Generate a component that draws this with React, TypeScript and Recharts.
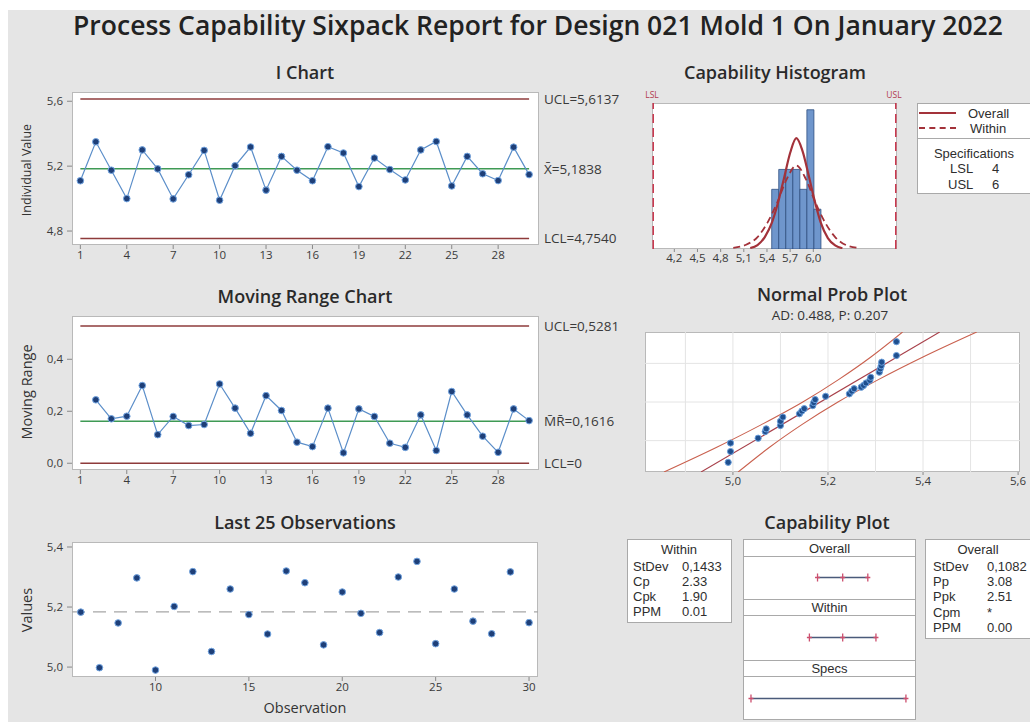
import React from 'react';
import { LineChart, ComposedChart, Line, XAxis, YAxis, ReferenceLine, ReferenceArea } from 'recharts';

const FONT = '"Open Sans", "Noto Sans", Arial, sans-serif';
const TABLE_FONT = '"Liberation Sans", Arial, sans-serif';

const observations = [1, 2, 3, 4, 5, 6, 7, 8, 9, 10, 11, 12, 13, 14, 15, 16, 17, 18, 19, 20, 21, 22, 23, 24, 25, 26, 27, 28, 29, 30];
const individualValues = [5.11, 5.35, 5.175, 5.0, 5.3, 5.183, 4.998, 5.147, 5.297, 4.99, 5.202, 5.318, 5.052, 5.26, 5.175, 5.11, 5.32, 5.281, 5.074, 5.25, 5.179, 5.115, 5.3, 5.352, 5.078, 5.26, 5.153, 5.111, 5.317, 5.148];
const iTicks = [1, 4, 7, 10, 13, 16, 19, 22, 25, 28];
const iUcl = 5.6137;
const iCenter = 5.1838;
const iLcl = 4.754;

const mrObservations = [2, 3, 4, 5, 6, 7, 8, 9, 10, 11, 12, 13, 14, 15, 16, 17, 18, 19, 20, 21, 22, 23, 24, 25, 26, 27, 28, 29, 30];
const movingRanges = [0.244, 0.171, 0.181, 0.299, 0.11, 0.18, 0.145, 0.149, 0.305, 0.212, 0.115, 0.26, 0.203, 0.081, 0.064, 0.212, 0.04, 0.209, 0.18, 0.077, 0.061, 0.186, 0.049, 0.276, 0.186, 0.104, 0.042, 0.209, 0.164];
const mrUcl = 0.5281;
const mrCenter = 0.1616;
const mrLcl = 0;

const last25Ticks = [10, 15, 20, 25, 30];

const lsl = 4;
const usl = 6;
const binEdges = [4.977, 5.035, 5.093, 5.151, 5.209, 5.267, 5.325, 5.383];
const binCounts = [3, 4, 4, 4, 3, 7, 2];
const histTicks = [4.2, 4.5, 4.8, 5.1, 5.4, 5.7, 6.0];
const overallCurveX = [4.8, 4.86, 4.92, 4.98, 5.03, 5.08, 5.13, 5.18, 5.23, 5.28, 5.33, 5.38, 5.44, 5.5, 5.56];
const overallCurveY = [0.05, 0.2, 0.6, 1.35, 2.35, 3.6, 4.85, 5.57, 4.95, 3.75, 2.45, 1.35, 0.55, 0.18, 0.04];
const withinCurveX = [4.66, 4.76, 4.86, 4.94, 5.02, 5.1, 5.18, 5.26, 5.34, 5.42, 5.5, 5.6, 5.7];
const withinCurveY = [0.06, 0.2, 0.6, 1.3, 2.3, 3.5, 4.2, 3.5, 2.3, 1.3, 0.6, 0.17, 0.05];

const probX = [4.99, 4.995, 4.995, 5.053, 5.068, 5.07, 5.1, 5.1, 5.105, 5.14, 5.145, 5.15, 5.168, 5.17, 5.173, 5.195, 5.245, 5.25, 5.255, 5.27, 5.275, 5.28, 5.288, 5.29, 5.308, 5.31, 5.312, 5.313, 5.344, 5.344];
const probZ = [-2.0, -1.64, -1.36, -1.2, -0.98, -0.89, -0.78, -0.64, -0.5, -0.39, -0.3, -0.22, -0.12, -0.02, 0.08, 0.19, 0.27, 0.36, 0.44, 0.49, 0.55, 0.63, 0.72, 0.82, 0.99, 1.1, 1.2, 1.32, 1.54, 2.0];
const fitX = [4.933, 5.435];
const fitZ = [-2.32, 2.32];
const bandZ = [-2.32, -1.5, -0.75, 0, 0.75, 1.5, 2.32];
const bandLeftX = [4.855, 4.966, 5.06, 5.147, 5.223, 5.291, 5.357];
const bandRightX = [5.011, 5.077, 5.145, 5.221, 5.307, 5.401, 5.513];
const probTicks = [5.0, 5.2, 5.4, 5.6];
const probGridX = [4.9, 5.0, 5.1, 5.2, 5.3, 5.4, 5.5];
const probGridZ = [-1.28, 0, 1.28];

const overallInterval = [4.859, 5.1838, 5.508];
const withinInterval = [4.754, 5.1838, 5.613];
const specInterval = [4, 6];

const withinLabels = ['StDev', 'Cp', 'Cpk', 'PPM'];
const withinValues = ['0,1433', '2.33', '1.90', '0.01'];
const overallLabels = ['StDev', 'Pp', 'Ppk', 'Cpm', 'PPM'];
const overallValues = ['0,1082', '3.08', '2.51', '*', '0.00'];

// ---- layout helpers ----
type Rect = { x0: number; y0: number; x1: number; y1: number };
const I_RECT: Rect = { x0: 72, y0: 92, x1: 539, y1: 245 };
const MR_RECT: Rect = { x0: 72, y0: 316, x1: 539, y1: 470 };
const L25_RECT: Rect = { x0: 72, y0: 542, x1: 538, y1: 677 };
const HIST_RECT: Rect = { x0: 652, y0: 103, x1: 897, y1: 249 };
const PROB_RECT: Rect = { x0: 645, y0: 332, x1: 1020, y1: 472 };

const TOP_PAD = 8;

function frame(r: Rect, leftW: number, rightW: number, bottomH: number) {
  return {
    left: r.x0 - leftW,
    top: r.y0 - TOP_PAD,
    width: r.x1 - r.x0 + leftW + rightW,
    height: r.y1 - r.y0 + TOP_PAD + bottomH,
  };
}

const comma = (v: number, d: number) => v.toFixed(d).replace('.', ',');
const tickStyle = { fontSize: 11.5, fill: '#3a3a3a', fontFamily: FONT };

function PlotBox({ r }: { r: Rect }) {
  return (
    <div
      style={{
        position: 'absolute',
        left: r.x0,
        top: r.y0,
        width: r.x1 - r.x0,
        height: r.y1 - r.y0,
        background: '#fff',
        border: '1px solid #b9b9b9',
        boxSizing: 'border-box',
      }}
    />
  );
}

function Txt({
  x,
  y,
  children,
  size = 12,
  weight = 400,
  align = 'center',
  color = '#333',
  rotate = 0,
  family,
}: {
  x: number;
  y: number;
  children: React.ReactNode;
  size?: number;
  weight?: number;
  align?: 'center' | 'left' | 'right';
  color?: string;
  rotate?: number;
  family?: string;
}) {
  const tx = align === 'center' ? '-50%' : align === 'right' ? '-100%' : '0';
  return (
    <div
      style={{
        position: 'absolute',
        left: x,
        top: y,
        transform: `translate(${tx}, -50%) rotate(${rotate}deg)`,
        fontSize: size,
        fontWeight: weight,
        fontFamily: family,
        color,
        whiteSpace: 'nowrap',
        lineHeight: 1,
      }}
    >
      {children}
    </div>
  );
}

// small text used in the tables and the legend
function Cell(props: { x: number; y: number; children: React.ReactNode; align?: 'center' | 'left' | 'right' }) {
  return <Txt {...props} size={13} family={TABLE_FONT} color="#2e2e2e" />;
}

const pointDot = { r: 3.3, fill: '#1e3f78', stroke: '#74a6e2', strokeWidth: 1 };

function ControlChart({
  rect,
  xs,
  ys,
  yDomain,
  yTicks,
  limits,
  limitText,
}: {
  rect: Rect;
  xs: number[];
  ys: number[];
  yDomain: [number, number];
  yTicks: number[];
  limits: number[];
  limitText: (v: number) => string;
}) {
  const f = frame(rect, 72, 100, 24);
  const data = xs.map((obs, i) => ({ obs, value: ys[i] }));
  const [lcl, center, ucl] = limits;
  return (
    <div style={{ position: 'absolute', left: f.left, top: f.top }}>
      <LineChart width={f.width} height={f.height} data={data} margin={{ top: TOP_PAD, right: 0, bottom: 0, left: 0 }}>
        <XAxis
          dataKey="obs"
          type="number"
          domain={[0.46, 30.64]}
          ticks={iTicks}
          interval={0}
          allowDataOverflow
          axisLine={false}
          tickSize={4}
          tickLine={{ stroke: '#888' }}
          height={24}
          tick={tickStyle}
        />
        <YAxis
          yAxisId="l"
          type="number"
          domain={yDomain}
          ticks={yTicks}
          interval={0}
          allowDataOverflow
          width={72}
          axisLine={false}
          tickSize={5}
          tickMargin={4}
          tickLine={{ stroke: '#888' }}
          tick={tickStyle}
          tickFormatter={(v: number) => comma(v, 1)}
        />
        <YAxis
          yAxisId="r"
          orientation="right"
          type="number"
          domain={yDomain}
          ticks={limits}
          interval={0}
          allowDataOverflow
          width={100}
          axisLine={false}
          tickLine={false}
          tickSize={0}
          tickMargin={5}
          tick={{ ...tickStyle, fontSize: 13.5 }}
          tickFormatter={limitText}
        />
        <ReferenceLine yAxisId="l" segment={[{ x: 1, y: center }, { x: 30, y: center }]} stroke="#3f9a55" strokeWidth={1.4} />
        <ReferenceLine yAxisId="l" segment={[{ x: 1, y: ucl }, { x: 30, y: ucl }]} stroke="#8e3b3b" strokeWidth={1.6} />
        <ReferenceLine yAxisId="l" segment={[{ x: 1, y: lcl }, { x: 30, y: lcl }]} stroke="#8e3b3b" strokeWidth={1.6} />
        <Line yAxisId="l" dataKey="value" stroke="#5b8ec9" strokeWidth={1.2} dot={pointDot} isAnimationActive={false} />
      </LineChart>
    </div>
  );
}

function Last25Chart() {
  const f = frame(L25_RECT, 72, 10, 24);
  const data = observations.slice(5).map((obs, i) => ({ obs, value: individualValues.slice(5)[i] }));
  return (
    <div style={{ position: 'absolute', left: f.left, top: f.top }}>
      <LineChart width={f.width} height={f.height} data={data} margin={{ top: TOP_PAD, right: 10, bottom: 0, left: 0 }}>
        <XAxis
          dataKey="obs"
          type="number"
          domain={[5.53, 30.48]}
          ticks={last25Ticks}
          interval={0}
          allowDataOverflow
          axisLine={false}
          tickSize={4}
          tickLine={{ stroke: '#888' }}
          height={24}
          tick={tickStyle}
        />
        <YAxis
          type="number"
          domain={[4.967, 5.4166]}
          ticks={[5.0, 5.2, 5.4]}
          interval={0}
          allowDataOverflow
          width={72}
          axisLine={false}
          tickSize={5}
          tickMargin={4}
          tickLine={{ stroke: '#888' }}
          tick={tickStyle}
          tickFormatter={(v: number) => comma(v, 1)}
        />
        <ReferenceLine y={iCenter} stroke="#a6a6a6" strokeWidth={1.3} strokeDasharray="13 8" />
        <Line dataKey="value" stroke="none" dot={pointDot} isAnimationActive={false} />
      </LineChart>
    </div>
  );
}

function HistogramChart() {
  const f = frame(HIST_RECT, 0, 0, 0);
  const overall = overallCurveX.map((x, i) => ({ x, y: overallCurveY[i] }));
  const within = withinCurveX.map((x, i) => ({ x, y: withinCurveY[i] }));
  return (
    <div style={{ position: 'absolute', left: f.left, top: f.top }}>
      <ComposedChart width={f.width} height={f.height} data={overall} margin={{ top: TOP_PAD, right: 0, bottom: 0, left: 0 }}>
        <XAxis dataKey="x" type="number" domain={[3.99, 6.01]} allowDataOverflow hide />
        <YAxis type="number" domain={[0, 7.34]} allowDataOverflow hide />
        {binCounts.map((c, i) => (
          <ReferenceArea
            key={i}
            x1={binEdges[i]}
            x2={binEdges[i + 1]}
            y1={0}
            y2={c}
            fill="#6f96cc"
            fillOpacity={1}
            stroke="#2f4f80"
            strokeWidth={0.8}
            ifOverflow="visible"
          />
        ))}
        <Line data={within} dataKey="y" type="monotone" stroke="#a3323a" strokeWidth={1.8} strokeDasharray="7 4" dot={false} isAnimationActive={false} />
        <Line dataKey="y" type="monotone" stroke="#a3323a" strokeWidth={2.2} dot={false} isAnimationActive={false} />
        <ReferenceLine x={lsl} stroke="#c8334a" strokeWidth={1.5} strokeDasharray="9 5" />
        <ReferenceLine x={usl} stroke="#c8334a" strokeWidth={1.5} strokeDasharray="9 5" />
      </ComposedChart>
    </div>
  );
}

// tick labels under the histogram, on the report's own (offset) label scale
function HistogramTicks() {
  const data = histTicks.map((x) => ({ x, y: 0 }));
  return (
    <div style={{ position: 'absolute', left: HIST_RECT.x0, top: HIST_RECT.y1 - 2 }}>
      <LineChart width={HIST_RECT.x1 - HIST_RECT.x0} height={24} data={data} margin={{ top: 2, right: 0, bottom: 0, left: 0 }}>
        <XAxis
          dataKey="x"
          type="number"
          domain={[3.911, 7.084]}
          ticks={histTicks}
          interval={0}
          allowDataOverflow
          axisLine={false}
          tickSize={3}
          tickLine={{ stroke: '#888' }}
          height={22}
          tick={tickStyle}
          tickFormatter={(v: number) => comma(v, 1)}
        />
        <YAxis type="number" domain={[-1, 1]} hide />
        <Line dataKey="y" stroke="none" dot={false} isAnimationActive={false} />
      </LineChart>
    </div>
  );
}

function ProbPlotChart() {
  const f = frame(PROB_RECT, 0, 12, 22);
  const points = probX.map((x, i) => ({ x, z: probZ[i] }));
  const fit = fitX.map((x, i) => ({ x, z: fitZ[i] }));
  const left = bandLeftX.map((x, i) => ({ x, z: bandZ[i] }));
  const right = bandRightX.map((x, i) => ({ x, z: bandZ[i] }));
  return (
    <div style={{ position: 'absolute', left: f.left, top: f.top }}>
      <ComposedChart width={f.width} height={f.height} data={points} margin={{ top: TOP_PAD, right: 12, bottom: 0, left: 0 }}>
        <XAxis
          dataKey="x"
          type="number"
          domain={[4.815, 5.604]}
          ticks={probTicks}
          interval={0}
          allowDataOverflow
          axisLine={false}
          tickSize={3}
          tickLine={{ stroke: '#888' }}
          height={22}
          tick={tickStyle}
          tickFormatter={(v: number) => comma(v, 1)}
        />
        <YAxis dataKey="z" type="number" domain={[-2.32, 2.32]} allowDataOverflow hide />
        {probGridX.map((g) => (
          <ReferenceLine key={'gx' + g} x={g} stroke="#e4e4e4" strokeWidth={1} />
        ))}
        {probGridZ.map((g) => (
          <ReferenceLine key={'gz' + g} y={g} stroke="#e4e4e4" strokeWidth={1} />
        ))}
        <Line data={left} dataKey="z" type="monotone" stroke="#c9604e" strokeWidth={1.1} dot={false} isAnimationActive={false} />
        <Line data={right} dataKey="z" type="monotone" stroke="#c9604e" strokeWidth={1.1} dot={false} isAnimationActive={false} />
        <Line data={fit} dataKey="z" type="linear" stroke="#a8404a" strokeWidth={1.1} dot={false} isAnimationActive={false} />
        <Line dataKey="z" stroke="none" dot={{ r: 3.1, fill: '#1f4f8e', stroke: '#6b9fdc', strokeWidth: 1 }} isAnimationActive={false} />
      </ComposedChart>
    </div>
  );
}

const plusDot = (p: any) => (
  <path
    key={`p${p.index}`}
    d={`M${p.cx},${p.cy - 4}V${p.cy + 4}M${p.cx - 2.5},${p.cy}H${p.cx + 2.5}`}
    stroke="#cc4f6e"
    strokeWidth={1.3}
    fill="none"
  />
);

function CapRow({ values, top }: { values: number[]; top: number }) {
  const data = values.map((x) => ({ x, y: 0 }));
  return (
    <div style={{ position: 'absolute', left: 743, top }}>
      <LineChart width={173} height={43} data={data} margin={{ top: 0, right: 0, bottom: 0, left: 0 }}>
        <XAxis dataKey="x" type="number" domain={[3.897, 6.13]} allowDataOverflow hide />
        <YAxis type="number" domain={[-1, 1]} allowDataOverflow hide />
        <Line dataKey="y" stroke="#4a5a7a" strokeWidth={1.3} dot={plusDot} isAnimationActive={false} />
      </LineChart>
    </div>
  );
}

function HLine({ x, y, w }: { x: number; y: number; w: number }) {
  return <div style={{ position: 'absolute', left: x, top: y, width: w, height: 0, borderTop: '1px solid #a9a9a9' }} />;
}

function Box({ x, y, w, h }: { x: number; y: number; w: number; h: number }) {
  return (
    <div
      style={{
        position: 'absolute',
        left: x,
        top: y,
        width: w,
        height: h,
        background: '#fff',
        border: '1px solid #a9a9a9',
        boxSizing: 'border-box',
      }}
    />
  );
}

const TITLE = 18;

export default function App() {
  return (
    <div
      style={{
        position: 'absolute',
        left: 0,
        top: 0,
        width: 1030,
        height: 722,
        background: '#fff',
        overflow: 'hidden',
        fontFamily: FONT,
        color: '#333',
      }}
    >
      <div style={{ position: 'absolute', left: 8, top: 10, right: 0, bottom: 0, background: '#e5e5e5' }} />

      <Txt x={538} y={25} size={26.5} weight={600} color="#222">
        Process Capability Sixpack Report for Design 021 Mold 1 On January 2022
      </Txt>

      {/* I chart */}
      <Txt x={305} y={72} size={TITLE} weight={600} color="#2a2a2a">I Chart</Txt>
      <PlotBox r={I_RECT} />
      <ControlChart
        rect={I_RECT}
        xs={observations}
        ys={individualValues}
        yDomain={[4.714, 5.657]}
        yTicks={[4.8, 5.2, 5.6]}
        limits={[iLcl, iCenter, iUcl]}
        limitText={(v) => (v === iUcl ? `UCL=${comma(iUcl, 4)}` : v === iLcl ? `LCL=${comma(iLcl, 4)}` : `X\u0304=${comma(iCenter, 4)}`)}
      />
      <Txt x={27} y={170} size={12.5} rotate={-90}>Individual Value</Txt>

      {/* Moving range chart */}
      <Txt x={305} y={296} size={TITLE} weight={600} color="#2a2a2a">Moving Range Chart</Txt>
      <PlotBox r={MR_RECT} />
      <ControlChart
        rect={MR_RECT}
        xs={mrObservations}
        ys={movingRanges}
        yDomain={[-0.026, 0.5665]}
        yTicks={[0, 0.2, 0.4]}
        limits={[mrLcl, mrCenter, mrUcl]}
        limitText={(v) => (v === mrUcl ? `UCL=${comma(mrUcl, 4)}` : v === mrLcl ? 'LCL=0' : `M\u0304R\u0304=${comma(mrCenter, 4)}`)}
      />
      <Txt x={27} y={392} size={14.5} rotate={-90}>Moving Range</Txt>

      {/* Last 25 observations */}
      <Txt x={305} y={522} size={TITLE} weight={600} color="#2a2a2a">Last 25 Observations</Txt>
      <PlotBox r={L25_RECT} />
      <Last25Chart />
      <Txt x={27} y={610} size={14.5} rotate={-90}>Values</Txt>
      <Txt x={305} y={708} size={14.5}>Observation</Txt>

      {/* Capability histogram */}
      <Txt x={775} y={72} size={TITLE} weight={600} color="#2a2a2a">Capability Histogram</Txt>
      <PlotBox r={HIST_RECT} />
      <HistogramChart />
      <HistogramTicks />
      <Txt x={652} y={95} size={8.5} color="#b23a4e">LSL</Txt>
      <Txt x={894} y={95} size={8.5} color="#b23a4e">USL</Txt>

      <Box x={917} y={103} w={130} h={36} />
      <Box x={917} y={138} w={130} h={56} />
      <div style={{ position: 'absolute', left: 919, top: 112, width: 37, borderTop: '2px solid #a3323a' }} />
      <div style={{ position: 'absolute', left: 919, top: 127, width: 37, borderTop: '2px dashed #a3323a' }} />
      <Cell x={968} y={112.5} align="left">Overall</Cell>
      <Cell x={970} y={128} align="left">Within</Cell>
      <Cell x={974} y={153}>Specifications</Cell>
      <Cell x={950} y={168} align="left">LSL</Cell>
      <Cell x={992} y={168} align="left">4</Cell>
      <Cell x={948} y={183.5} align="left">USL</Cell>
      <Cell x={992} y={183.5} align="left">6</Cell>

      {/* Normal probability plot */}
      <Txt x={832} y={293.5} size={TITLE} weight={600} color="#2a2a2a">Normal Prob Plot</Txt>
      <Txt x={830} y={315.5} size={13.5}>AD: 0.488, P: 0.207</Txt>
      <PlotBox r={PROB_RECT} />
      <ProbPlotChart />

      {/* Capability plot */}
      <Txt x={827} y={522} size={TITLE} weight={600} color="#2a2a2a">Capability Plot</Txt>

      <Box x={627} y={539} w={105} h={84} />
      <Cell x={679} y={548.5}>Within</Cell>
      {withinLabels.map((l, i) => (
        <React.Fragment key={l}>
          <Cell x={633} y={565.5 + i * 15.2} align="left">{l}</Cell>
          <Cell x={682} y={565.5 + i * 15.2} align="left">{withinValues[i]}</Cell>
        </React.Fragment>
      ))}

      <Box x={925} y={539} w={115} h={100} />
      <Cell x={978} y={549}>Overall</Cell>
      {overallLabels.map((l, i) => (
        <React.Fragment key={l}>
          <Cell x={933} y={565.5 + i * 15.4} align="left">{l}</Cell>
          <Cell x={987} y={565.5 + i * 15.4} align="left">{overallValues[i]}</Cell>
        </React.Fragment>
      ))}

      <Box x={743} y={539} w={173} h={181} />
      <HLine x={743} y={556} w={173} />
      <HLine x={743} y={599} w={173} />
      <HLine x={743} y={615} w={173} />
      <HLine x={743} y={660} w={173} />
      <HLine x={743} y={676} w={173} />
      <Cell x={829.5} y={547.5}>Overall</Cell>
      <Cell x={829.5} y={607}>Within</Cell>
      <Cell x={829.5} y={668}>Specs</Cell>
      <CapRow values={overallInterval} top={556} />
      <CapRow values={withinInterval} top={616} />
      <CapRow values={specInterval} top={677} />
    </div>
  );
}
